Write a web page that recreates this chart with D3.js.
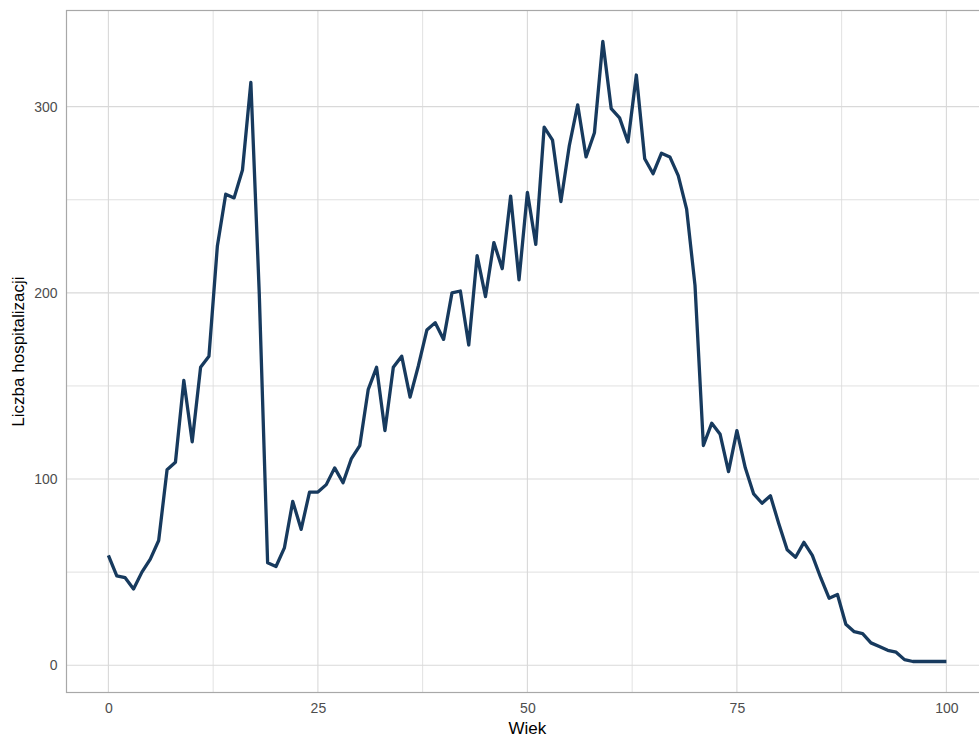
<!DOCTYPE html>
<html>
<head>
<meta charset="utf-8">
<script src="https://cdn.jsdelivr.net/npm/d3@7"></script>
<style>
  body { margin: 0; background: #fff; }
  svg { display: block; font-family: "Liberation Sans", Arial, sans-serif; }
</style>
</head>
<body>
<div id="chart"></div>
<script>
// wiek 0..100
var ages = d3.range(0, 101);
var counts = [
  59, 48, 47, 41, 50, 57, 67, 105, 109, 153,
  120, 160, 166, 225, 253, 251, 266, 313, 200, 55,
  53, 63, 88, 73, 93, 93, 97, 106, 98, 111,
  118, 148, 160, 126, 160, 166, 144, 161, 180, 184,
  175, 200, 201, 172, 220, 198, 227, 213, 252, 207,
  254, 226, 289, 282, 249, 279, 301, 273, 286, 335,
  299, 294, 281, 317, 272, 264, 275, 273, 263, 245,
  204, 118, 130, 124, 104, 126, 106, 92, 87, 91,
  76, 62, 58, 66, 59, 47, 36, 38, 22, 18,
  17, 12, 10, 8, 7, 3, 2, 2, 2, 2,
  2
];
var xTicks = [0, 25, 50, 75, 100];
var yTicks = [0, 100, 200, 300];
var xMinor = [12.5, 37.5, 62.5, 87.5];
var yMinor = [50, 150, 250];

var w = 979, h = 738;
var padLeft = 66.5, padTop = 10.5, padBottom = 692.5;

var data = ages.map(function(a, i) { return {age: a, n: counts[i]}; });

// ggplot-like 5% expansion
var xr = d3.extent(ages), yr = d3.extent(counts);
var xpad = (xr[1] - xr[0]) * 0.05, ypad = (yr[1] - yr[0]) * 0.05;
var xscale = d3.scaleLinear()
    .domain([xr[0] - xpad, xr[1] + xpad])
    .range([padLeft, padLeft + 838 * 1.1]);
var yscale = d3.scaleLinear()
    .domain([yr[0] - ypad, yr[1] + ypad])
    .range([padBottom, padTop]);

var svg = d3.select("#chart").append("svg")
    .attr("width", w)
    .attr("height", h);

var padRight = xscale.range()[1];

// grid
svg.append("g").selectAll("line").data(yMinor.concat(yTicks))
    .enter().append("line")
    .attr("x1", padLeft).attr("x2", padRight)
    .attr("y1", function(d) { return yscale(d); })
    .attr("y2", function(d) { return yscale(d); })
    .attr("stroke", "#d9d9d9")
    .attr("stroke-width", function(d) { return yTicks.indexOf(d) >= 0 ? 1.1 : 0.8; });
svg.append("g").selectAll("line").data(xMinor.concat(xTicks))
    .enter().append("line")
    .attr("y1", padTop).attr("y2", padBottom)
    .attr("x1", function(d) { return xscale(d); })
    .attr("x2", function(d) { return xscale(d); })
    .attr("stroke", "#d9d9d9")
    .attr("stroke-width", function(d) { return xTicks.indexOf(d) >= 0 ? 1.1 : 0.8; });

// panel border
svg.append("rect")
    .attr("x", padLeft).attr("y", padTop)
    .attr("width", padRight - padLeft).attr("height", padBottom - padTop)
    .attr("fill", "none")
    .attr("stroke", "#a8a8a8")
    .attr("stroke-width", 1.2);

// line
var line = d3.line()
    .x(function(d) { return xscale(d.age); })
    .y(function(d) { return yscale(d.n); });
svg.append("path")
    .datum(data)
    .attr("d", line)
    .attr("fill", "none")
    .attr("stroke", "#173a5e")
    .attr("stroke-width", 3.3)
    .attr("stroke-linejoin", "round");

// axes
var xaxis = d3.axisBottom(xscale).tickValues(xTicks).tickSize(0).tickPadding(11);
var gx = svg.append("g")
    .attr("transform", "translate(0," + padBottom + ")")
    .call(xaxis);
var yaxis = d3.axisLeft(yscale).tickValues(yTicks).tickSize(0).tickPadding(9);
var gy = svg.append("g")
    .attr("transform", "translate(" + padLeft + ",0)")
    .call(yaxis);
[gx, gy].forEach(function(g) {
    g.select(".domain").remove();
    g.selectAll("text")
        .attr("fill", "#4d4d4d")
        .style("font-size", "14px")
        .style("font-family", "'Liberation Sans', Arial, sans-serif");
});

// titles
svg.append("text")
    .attr("x", (padLeft + padRight) / 2)
    .attr("y", 734)
    .attr("text-anchor", "middle")
    .attr("fill", "#000")
    .style("font-size", "17px")
    .text("Wiek");
svg.append("text")
    .attr("transform", "translate(24," + ((padTop + padBottom) / 2) + ") rotate(-90)")
    .attr("text-anchor", "middle")
    .attr("fill", "#000")
    .style("font-size", "17px")
    .text("Liczba hospitalizacji");
</script>
</body>
</html>
